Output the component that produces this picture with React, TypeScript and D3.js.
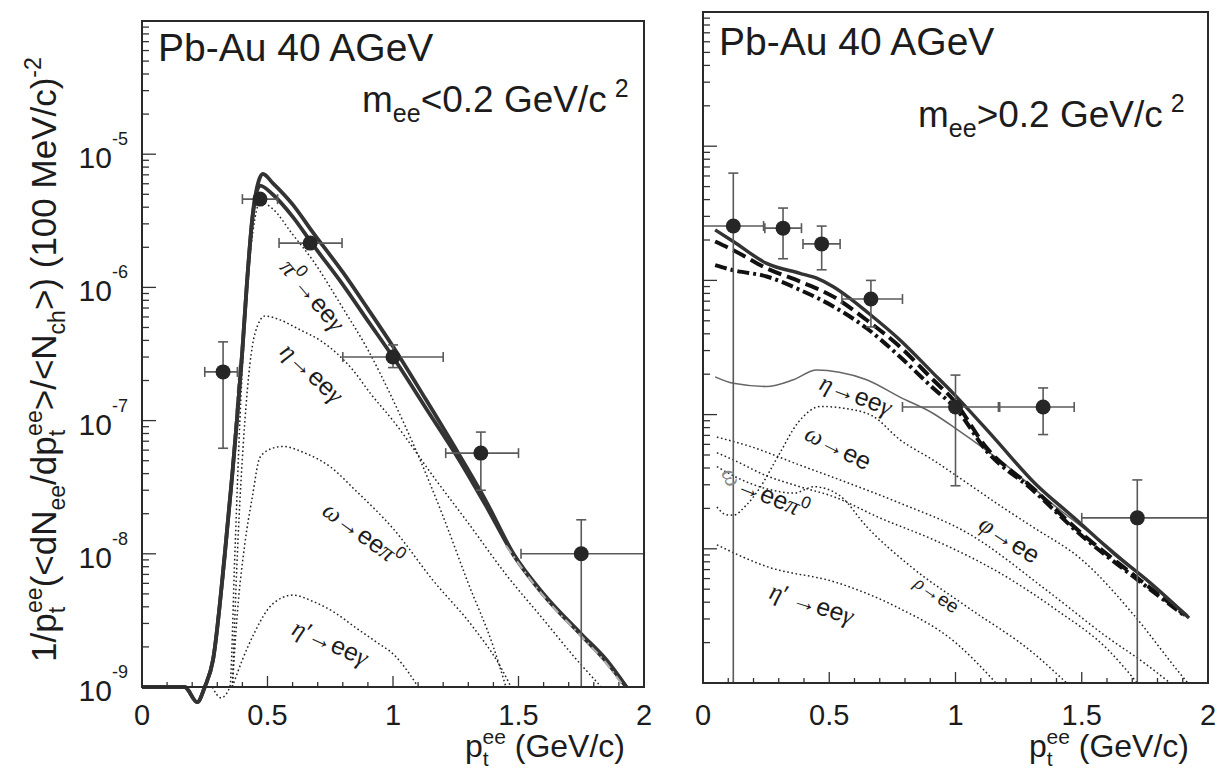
import React, { useEffect, useRef } from "react";
import * as d3 from "d3";

type Pt = [number, number];

const W = 1227;
const H = 773;
const SANS = "'Liberation Sans', Arial, Helvetica, sans-serif";
const SERIF = "'Liberation Serif', 'Times New Roman', serif";
const INK = "#1c1c1c";

// ---------- axes ----------
const xDomain: [number, number] = [0, 2];
const yDomain: [number, number] = [1e-9, 1e-4];
const xTickValues = [0, 0.5, 1, 1.5, 2];
const xTickLabels = ["0", "0.5", "1", "1.5", "2"];
const yDecadeExps = [-9, -8, -7, -6, -5];
const panelTitle = "Pb-Au 40 AGeV";

// ---------- left panel: m_ee < 0.2 GeV/c^2 ----------
const leftPtX = [0.323, 0.47, 0.67, 1.0, 1.35, 1.75];
const leftPtY = [2.32e-7, 4.6e-6, 2.15e-6, 3.0e-7, 5.7e-8, 1.0e-8];
const leftXLo = [0.25, 0.4, 0.546, 0.8, 1.21, 1.51];
const leftXHi = [0.38, 0.54, 0.797, 1.2, 1.5, 2.05];
const leftYLo = [6.2e-8, 4.3e-6, 2.0e-6, 2.5e-7, 3.0e-8, 1e-10];
const leftYHi = [3.9e-7, 4.9e-6, 2.3e-6, 3.7e-7, 8.2e-8, 1.8e-8];

const leftTotalUpper: Pt[] = [
  [0, 1e-9], [0.17, 1e-9], [0.22, 7.7e-10], [0.25, 1e-9], [0.283, 1.6e-9], [0.33, 1e-8],
  [0.36, 4e-8], [0.378, 1e-7], [0.4, 3.4e-7], [0.418, 1.07e-6], [0.44, 3.4e-6], [0.465, 6.3e-6],
  [0.482, 7.1e-6], [0.52, 6.1e-6], [0.6, 4.2e-6], [0.68, 2.6e-6], [0.8, 1.3e-6], [0.9, 6.9e-7],
  [1.0, 3.6e-7], [1.13, 1.45e-7], [1.26, 5.7e-8], [1.37, 2.5e-8], [1.48, 1.0e-8], [1.6, 5e-9],
  [1.75, 2.5e-9], [1.85, 1.6e-9], [1.93, 1e-9],
];
const leftTotalLower: Pt[] = [
  [0, 1e-9], [0.17, 1e-9], [0.22, 7.7e-10], [0.25, 1e-9], [0.283, 1.6e-9], [0.33, 1e-8],
  [0.36, 4e-8], [0.378, 1e-7], [0.4, 3.4e-7], [0.418, 1.07e-6], [0.44, 3.3e-6], [0.47, 5.8e-6],
  [0.52, 5.0e-6], [0.6, 3.4e-6], [0.68, 2.1e-6], [0.8, 1.05e-6], [0.9, 5.6e-7], [1.0, 3.0e-7],
  [1.13, 1.25e-7], [1.26, 5.2e-8], [1.37, 2.3e-8], [1.48, 9.8e-9], [1.6, 4.9e-9], [1.75, 2.45e-9],
  [1.85, 1.55e-9], [1.93, 1e-9],
];
// grey dash-dotted sum, visible only where it leaves the thick lines
const leftGreyRise: Pt[] = [
  [0.3, 3.2e-9], [0.33, 8.5e-9], [0.355, 3.2e-8], [0.372, 9e-8], [0.39, 2.8e-7],
];
const leftGreyTail: Pt[] = [
  [1.45, 1.15e-8], [1.6, 4.8e-9], [1.75, 2.4e-9], [1.85, 1.5e-9], [1.92, 1e-9],
];
const leftPi0: Pt[] = [
  [0.28, 1e-9], [0.315, 8.3e-10], [0.35, 1e-9], [0.37, 1e-8], [0.39, 1e-7], [0.42, 1e-6],
  [0.45, 3.3e-6], [0.47, 4.4e-6], [0.52, 3.9e-6], [0.6, 2.5e-6], [0.68, 1.6e-6], [0.8, 7.0e-7],
  [0.9, 3.4e-7], [1.0, 1.43e-7], [1.1, 5.5e-8], [1.2, 1.9e-8], [1.3, 6e-9], [1.4, 2e-9], [1.45, 1e-9],
];
const leftEta: Pt[] = [
  [0.36, 1e-9], [0.38, 1e-8], [0.41, 1e-7], [0.45, 4.5e-7], [0.49, 6.1e-7], [0.55, 5.7e-7],
  [0.63, 4.8e-7], [0.71, 4.0e-7], [0.84, 2.4e-7], [0.91, 1.6e-7], [1.0, 1.0e-7], [1.17, 3.6e-8],
  [1.3, 1.7e-8], [1.45, 7e-9], [1.6, 3.2e-9], [1.72, 1.7e-9], [1.83, 1e-9],
];
const leftOmegaDalitz: Pt[] = [
  [0.36, 1e-9], [0.38, 3.6e-9], [0.41, 1.2e-8], [0.44, 2.7e-8], [0.47, 5.3e-8], [0.52, 6.2e-8],
  [0.56, 6.4e-8], [0.65, 5.7e-8], [0.75, 4.5e-8], [0.85, 3e-8], [1.0, 1.55e-8], [1.16, 6.3e-9],
  [1.32, 2.8e-9], [1.43, 1.4e-9], [1.47, 1e-9],
];
const leftEtaPrime: Pt[] = [
  [0.36, 1e-9], [0.4, 1.6e-9], [0.45, 2.6e-9], [0.5, 3.8e-9], [0.56, 4.7e-9], [0.6, 4.9e-9],
  [0.68, 4.4e-9], [0.77, 3.6e-9], [0.85, 2.8e-9], [0.93, 2.2e-9], [1.01, 1.7e-9], [1.06, 1.3e-9],
  [1.1, 1e-9],
];

// ---------- right panel: m_ee > 0.2 GeV/c^2 ----------
const rightPtX = [0.12, 0.317, 0.47, 0.665, 1.0, 1.347, 1.72];
const rightPtY = [2.54e-6, 2.45e-6, 1.87e-6, 7.26e-7, 1.14e-7, 1.14e-7, 1.7e-8];
const rightXLo = [-0.05, 0.245, 0.396, 0.55, 0.79, 1.175, 1.5];
const rightXHi = [0.24, 0.39, 0.543, 0.79, 1.17, 1.47, 2.05];
const rightYLo = [1e-10, 1.45e-6, 1.2e-6, 4.5e-7, 2.95e-8, 7.1e-8, 1e-10];
const rightYHi = [6.3e-6, 3.46e-6, 2.54e-6, 1.0e-6, 1.97e-7, 1.58e-7, 3.26e-8];

const rightTotal: Pt[] = [
  [0.048, 2.38e-6], [0.12, 1.95e-6], [0.252, 1.34e-6], [0.384, 1.13e-6], [0.45, 1.04e-6],
  [0.516, 8.97e-7], [0.582, 7.35e-7], [0.648, 5.85e-7], [0.78, 3.6e-7], [0.912, 2.03e-7],
  [0.991, 1.44e-7], [1.15, 6.8e-8], [1.314, 3.08e-8], [1.47, 1.7e-8], [1.627, 9.25e-9],
  [1.77, 5.6e-9], [1.925, 3.05e-9],
];
const rightDashed: Pt[] = [
  [0.048, 1.95e-6], [0.12, 1.68e-6], [0.252, 1.23e-6], [0.384, 9.8e-7], [0.516, 7.57e-7],
  [0.648, 5.07e-7], [0.78, 3.2e-7], [0.912, 1.81e-7], [0.991, 1.29e-7], [1.125, 5.6e-8],
  [1.3, 2.9e-8], [1.5, 1.3e-8], [1.7, 6.5e-9], [1.91, 3.2e-9],
];
const rightDashDot: Pt[] = [
  [0.048, 1.3e-6], [0.12, 1.19e-6], [0.252, 1.07e-6], [0.384, 8.5e-7], [0.516, 6.4e-7],
  [0.648, 4.4e-7], [0.78, 2.7e-7], [0.912, 1.57e-7], [1.0, 1.12e-7], [1.125, 5.3e-8],
  [1.3, 2.8e-8], [1.5, 1.25e-8], [1.7, 6.3e-9], [1.91, 3.15e-9],
];
const rightEtaDalitz: Pt[] = [
  [0.048, 1.91e-7], [0.12, 1.71e-7], [0.252, 1.62e-7], [0.358, 1.82e-7], [0.45, 2.15e-7],
  [0.54, 2.07e-7], [0.648, 1.82e-7], [0.78, 1.35e-7], [0.912, 1.02e-7], [1.0, 7.9e-8],
  [1.2, 4.2e-8], [1.4, 2.04e-8], [1.6, 1.05e-8], [1.75, 6.0e-9], [1.92, 3.2e-9],
];
const rightOmegaEE: Pt[] = [
  [0.055, 2.05e-8], [0.09, 1.8e-8], [0.12, 1.78e-8], [0.17, 2.1e-8], [0.22, 2.75e-8],
  [0.3, 5.0e-8], [0.376, 8.7e-8], [0.467, 1.15e-7], [0.55, 1.12e-7], [0.67, 9.8e-8],
  [0.78, 6.5e-8], [0.91, 4.6e-8], [1.045, 3.1e-8], [1.176, 2.1e-8], [1.307, 1.45e-8],
  [1.5, 8.3e-9], [1.707, 3.2e-9], [1.89, 1.17e-9], [1.92, 1e-9],
];
const rightPhiEE: Pt[] = [
  [0.055, 6.8e-8], [0.186, 5.8e-8], [0.384, 4.2e-8], [0.543, 3.26e-8], [0.78, 2.19e-8],
  [1.045, 1.32e-8], [1.374, 4.7e-9], [1.6, 2.2e-9], [1.75, 1.4e-9], [1.85, 1e-9],
];
const rightRhoEE: Pt[] = [
  [0.055, 5.2e-8], [0.12, 4.6e-8], [0.252, 3.5e-8], [0.384, 2.9e-8], [0.516, 2.45e-8],
  [0.7, 1.7e-8], [0.912, 1.17e-8], [1.176, 6.6e-9], [1.4, 3.5e-9], [1.6, 1.8e-9], [1.72, 1e-9],
];
const rightOmegaDalitz: Pt[] = [
  [0.055, 4.1e-8], [0.12, 3.5e-8], [0.252, 2.8e-8], [0.36, 2.6e-8], [0.44, 2.9e-8],
  [0.54, 2.5e-8], [0.65, 1.45e-8], [0.83, 7.2e-9], [1.045, 3.7e-9], [1.31, 1.66e-9], [1.44, 1e-9],
];
const rightEtaPrime: Pt[] = [
  [0.055, 1.07e-8], [0.25, 7.4e-9], [0.53, 5.6e-9], [0.765, 3.7e-9], [1.0, 2.0e-9],
  [1.14, 1.1e-9], [1.16, 1e-9],
];

// ---------- text helpers ----------
type Part = { t: string; s?: number; dx?: number; dy?: number; f?: string; it?: boolean; fill?: string };

function rich(parent: any, x: number, y: number, parts: Part[], size: number,
  opts: { anchor?: string; rotate?: number; fill?: string; family?: string } = {}) {
  const tx = parent.append("text")
    .attr("transform", `translate(${x},${y}) rotate(${opts.rotate || 0})`)
    .attr("font-family", opts.family || SANS)
    .attr("font-size", size)
    .attr("fill", opts.fill || INK)
    .attr("text-anchor", opts.anchor || "start")
    .style("white-space", "pre");
  parts.forEach((p) => {
    const ts = tx.append("tspan").text(p.t);
    if (p.s) ts.attr("font-size", p.s);
    if (p.dx) ts.attr("dx", p.dx);
    if (p.dy) ts.attr("dy", p.dy);
    if (p.f) ts.attr("font-family", p.f);
    if (p.it) ts.attr("font-style", "italic");
    if (p.fill) ts.attr("fill", p.fill);
  });
  return tx;
}

const G = (t: string): Part => ({ t, f: SERIF, it: true });

type CurveLabel = { parts: Part[]; at: Pt; angle: number; size: number };

const leftLabels: CurveLabel[] = [
  { parts: [G("π"), { t: "0", s: 17, dy: -10 }, { t: "→ee", dy: 10 }, G("γ")], at: [0.545, 1.4e-6], angle: 50, size: 25 },
  { parts: [G("η"), { t: "→ee" }, G("γ")], at: [0.545, 3.2e-7], angle: 43, size: 25 },
  { parts: [G("ω"), { t: "→ee" }, G("π"), { t: "0", s: 17, dy: -10 }], at: [0.712, 2.0e-8], angle: 36, size: 25 },
  { parts: [G("η"), { t: "′" }, { t: "→ee" }, G("γ")], at: [0.592, 2.5e-9], angle: 24, size: 25 },
];
const rightLabels: CurveLabel[] = [
  { parts: [G("η"), { t: "→ee" }, G("γ")], at: [0.455, 1.55e-7], angle: 21, size: 25 },
  { parts: [G("ω"), { t: "→ee" }], at: [0.396, 6.6e-8], angle: 27, size: 25 },
  { parts: [{ t: "→ee" }, G("π"), { t: "0", s: 17, dy: -10 }], at: [0.127, 2.7e-8], angle: 22, size: 25 },
  { parts: [G("φ"), { t: "→ee" }], at: [1.085, 1.42e-8], angle: 33, size: 25 },
  { parts: [G("ρ"), { t: "→ee" }], at: [0.832, 5.3e-9], angle: 35, size: 19 },
  { parts: [G("η"), { t: "′" }, { t: " →ee" }, G("γ")], at: [0.257, 4.3e-9], angle: 18, size: 25 },
];
const rightGreyOmega: CurveLabel = { parts: [G("ω")], at: [0.07, 3.7e-8], angle: 65, size: 25 };

type Frame = { x0: number; x1: number; y0: number; y1: number; id: string };
const LEFT: Frame = { x0: 142, x1: 644, y0: 21, y1: 687, id: "L" };
const RIGHT: Frame = { x0: 703, x1: 1208, y0: 12, y1: 683, id: "R" };

type LineSpec = { data: Pt[]; stroke: string; width: number; dash?: string };

function drawPanel(svg: any, fr: Frame, lines: LineSpec[], px: number[], py: number[],
  xlo: number[], xhi: number[], ylo: number[], yhi: number[], labels: CurveLabel[], yLabels: boolean) {
  const x = d3.scaleLinear().domain(xDomain).range([fr.x0, fr.x1]);
  const y = d3.scaleLog().domain(yDomain).range([fr.y1, fr.y0]);
  const defs = svg.append("defs");
  defs.append("clipPath").attr("id", `clipA${fr.id}`).append("rect")
    .attr("x", fr.x0).attr("y", fr.y0).attr("width", fr.x1 - fr.x0).attr("height", fr.y1 - fr.y0);
  defs.append("clipPath").attr("id", `clipB${fr.id}`).append("rect")
    .attr("x", fr.x0).attr("y", fr.y0).attr("width", fr.x1 - fr.x0).attr("height", fr.y1 - fr.y0 + 22);

  // ticks
  const tg = svg.append("g").attr("stroke", "#333").attr("stroke-width", 1.3);
  for (let i = 0; i <= 20; i++) {
    const v = i / 10;
    const len = i % 5 === 0 ? 11 : 5;
    tg.append("line").attr("x1", x(v)).attr("x2", x(v)).attr("y1", fr.y1).attr("y2", fr.y1 - len);
  }
  yDecadeExps.forEach((e) => {
    for (let k = 1; k <= 9; k++) {
      const v = k * Math.pow(10, e);
      if (v > yDomain[1] * 1.0001) continue;
      const len = k === 1 ? 14 : 7;
      tg.append("line").attr("x1", fr.x0).attr("x2", fr.x0 + len).attr("y1", y(v)).attr("y2", y(v));
    }
  });

  // curves
  const line = d3.line<Pt>().x((d) => x(d[0])).y((d) => y(d[1])).curve(d3.curveMonotoneX);
  const cg = svg.append("g").attr("clip-path", `url(#clipB${fr.id})`);
  lines.forEach((l) => {
    const p = cg.append("path").attr("d", line(l.data)).attr("fill", "none")
      .attr("stroke", l.stroke).attr("stroke-width", l.width)
      .attr("stroke-linejoin", "round");
    if (l.dash) p.attr("stroke-dasharray", l.dash);
  });

  // error bars + points
  const eg = svg.append("g").attr("clip-path", `url(#clipA${fr.id})`)
    .attr("stroke", "#5a5a5a").attr("stroke-width", 1.6);
  px.forEach((xv, i) => {
    const cx = x(xv), cy = y(py[i]);
    const xl = x(xlo[i]), xh = x(xhi[i]), yl = y(ylo[i]), yh = y(yhi[i]);
    eg.append("line").attr("x1", xl).attr("x2", xh).attr("y1", cy).attr("y2", cy);
    eg.append("line").attr("x1", cx).attr("x2", cx).attr("y1", yl).attr("y2", yh);
    eg.append("line").attr("x1", xl).attr("x2", xl).attr("y1", cy - 5).attr("y2", cy + 5);
    eg.append("line").attr("x1", xh).attr("x2", xh).attr("y1", cy - 5).attr("y2", cy + 5);
    eg.append("line").attr("x1", cx - 5).attr("x2", cx + 5).attr("y1", yl).attr("y2", yl);
    eg.append("line").attr("x1", cx - 5).attr("x2", cx + 5).attr("y1", yh).attr("y2", yh);
  });
  px.forEach((xv, i) => {
    svg.append("circle").attr("cx", x(xv)).attr("cy", y(py[i])).attr("r", 7.5).attr("fill", "#262626");
  });

  // frame
  svg.append("rect").attr("x", fr.x0).attr("y", fr.y0).attr("width", fr.x1 - fr.x0)
    .attr("height", fr.y1 - fr.y0).attr("fill", "none").attr("stroke", "#2a2a2a").attr("stroke-width", 2);

  // x tick labels
  xTickValues.forEach((v, i) => {
    svg.append("text").attr("x", x(v)).attr("y", 725).attr("text-anchor", "middle")
      .attr("font-family", SANS).attr("font-size", 29).attr("fill", INK).text(xTickLabels[i]);
  });
  // y tick labels
  if (yLabels) {
    yDecadeExps.forEach((e) => {
      const ty = y(Math.pow(10, e));
      rich(svg, 128, ty + 14, [{ t: "10" }, { t: `-${Math.abs(e)}`, s: 18, dy: -23 }], 30, { anchor: "end" });
    });
  }
  // x title
  rich(svg, fr.x1 - 19, 757, [
    { t: "p" }, { t: "t", s: 21, dy: 9 }, { t: "ee", s: 21, dx: -6, dy: -22 }, { t: " (GeV/c)", dy: 13 },
  ], 32, { anchor: "end" });

  // curve labels
  labels.forEach((lb) => {
    rich(svg, x(lb.at[0]), y(lb.at[1]), lb.parts, lb.size, { rotate: lb.angle });
  });
  return { x, y };
}

export default function App() {
  const ref = useRef<SVGSVGElement | null>(null);
  useEffect(() => {
    const svg = d3.select(ref.current);
    svg.selectAll("*").remove();
    svg.append("rect").attr("width", W).attr("height", H).attr("fill", "#fff");

    const dotted = (data: Pt[]): LineSpec => ({ data, stroke: "#222", width: 1.5, dash: "1.6 2.6" });
    const greyDash = (data: Pt[]): LineSpec => ({ data, stroke: "#b0b0b0", width: 2.2, dash: "9 4 2 4" });

    drawPanel(svg, LEFT, [
      dotted(leftPi0), dotted(leftEta), dotted(leftOmegaDalitz), dotted(leftEtaPrime),
      greyDash(leftGreyRise),
      { data: leftTotalLower, stroke: "#333", width: 3.8 },
      { data: leftTotalUpper, stroke: "#333", width: 3.8 },
      greyDash(leftGreyTail),
    ], leftPtX, leftPtY, leftXLo, leftXHi, leftYLo, leftYHi, leftLabels, true);

    const r = drawPanel(svg, RIGHT, [
      dotted(rightOmegaEE), dotted(rightPhiEE), dotted(rightRhoEE), dotted(rightOmegaDalitz), dotted(rightEtaPrime),
      { data: rightEtaDalitz, stroke: "#666", width: 1.6 },
      { data: rightDashDot, stroke: "#111", width: 4, dash: "12 4 3 4" },
      { data: rightDashed, stroke: "#111", width: 4, dash: "14 6" },
      { data: rightTotal, stroke: "#333", width: 3.4 },
    ], rightPtX, rightPtY, rightXLo, rightXHi, rightYLo, rightYHi, rightLabels, false);
    rich(svg, r.x(rightGreyOmega.at[0]), r.y(rightGreyOmega.at[1]), rightGreyOmega.parts, rightGreyOmega.size,
      { rotate: rightGreyOmega.angle, fill: "#8a8a8a" });

    // panel titles
    svg.append("text").attr("x", 158).attr("y", 61).attr("font-family", SANS).attr("font-size", 39)
      .attr("fill", INK).text(panelTitle);
    svg.append("text").attr("x", 719).attr("y", 55).attr("font-family", SANS).attr("font-size", 39)
      .attr("fill", INK).text(panelTitle);
    rich(svg, 362, 112, [{ t: "m" }, { t: "ee", s: 25, dy: 10 }, { t: "<0.2 GeV/c", dy: -10 }, { t: "2", s: 25, dx: 8, dy: -15 }], 37);
    rich(svg, 918, 127, [{ t: "m" }, { t: "ee", s: 25, dy: 10 }, { t: ">0.2 GeV/c", dy: -10 }, { t: "2", s: 25, dx: 8, dy: -15 }], 37);

    // y title
    rich(svg, 56, 662, [
      { t: "1/p" }, { t: "t", s: 23, dy: 9 }, { t: "ee", s: 23, dx: -6, dy: -23 },
      { t: "(<dN", dy: 14 }, { t: "ee", s: 23, dy: 9 }, { t: "/dp", dy: -9 },
      { t: "t", s: 23, dy: 9 }, { t: "ee", s: 23, dx: -6, dy: -23 },
      { t: ">/<N", dy: 14 }, { t: "ch", s: 23, dy: 9 }, { t: ">) (100 MeV/c)", dy: -9 },
      { t: "-2", s: 23, dy: -15 },
    ], 35, { rotate: -90 });
  }, []);
  return <svg ref={ref} width={W} height={H} style={{ position: "absolute", left: 0, top: 0, background: "#fff" }} />;
}
